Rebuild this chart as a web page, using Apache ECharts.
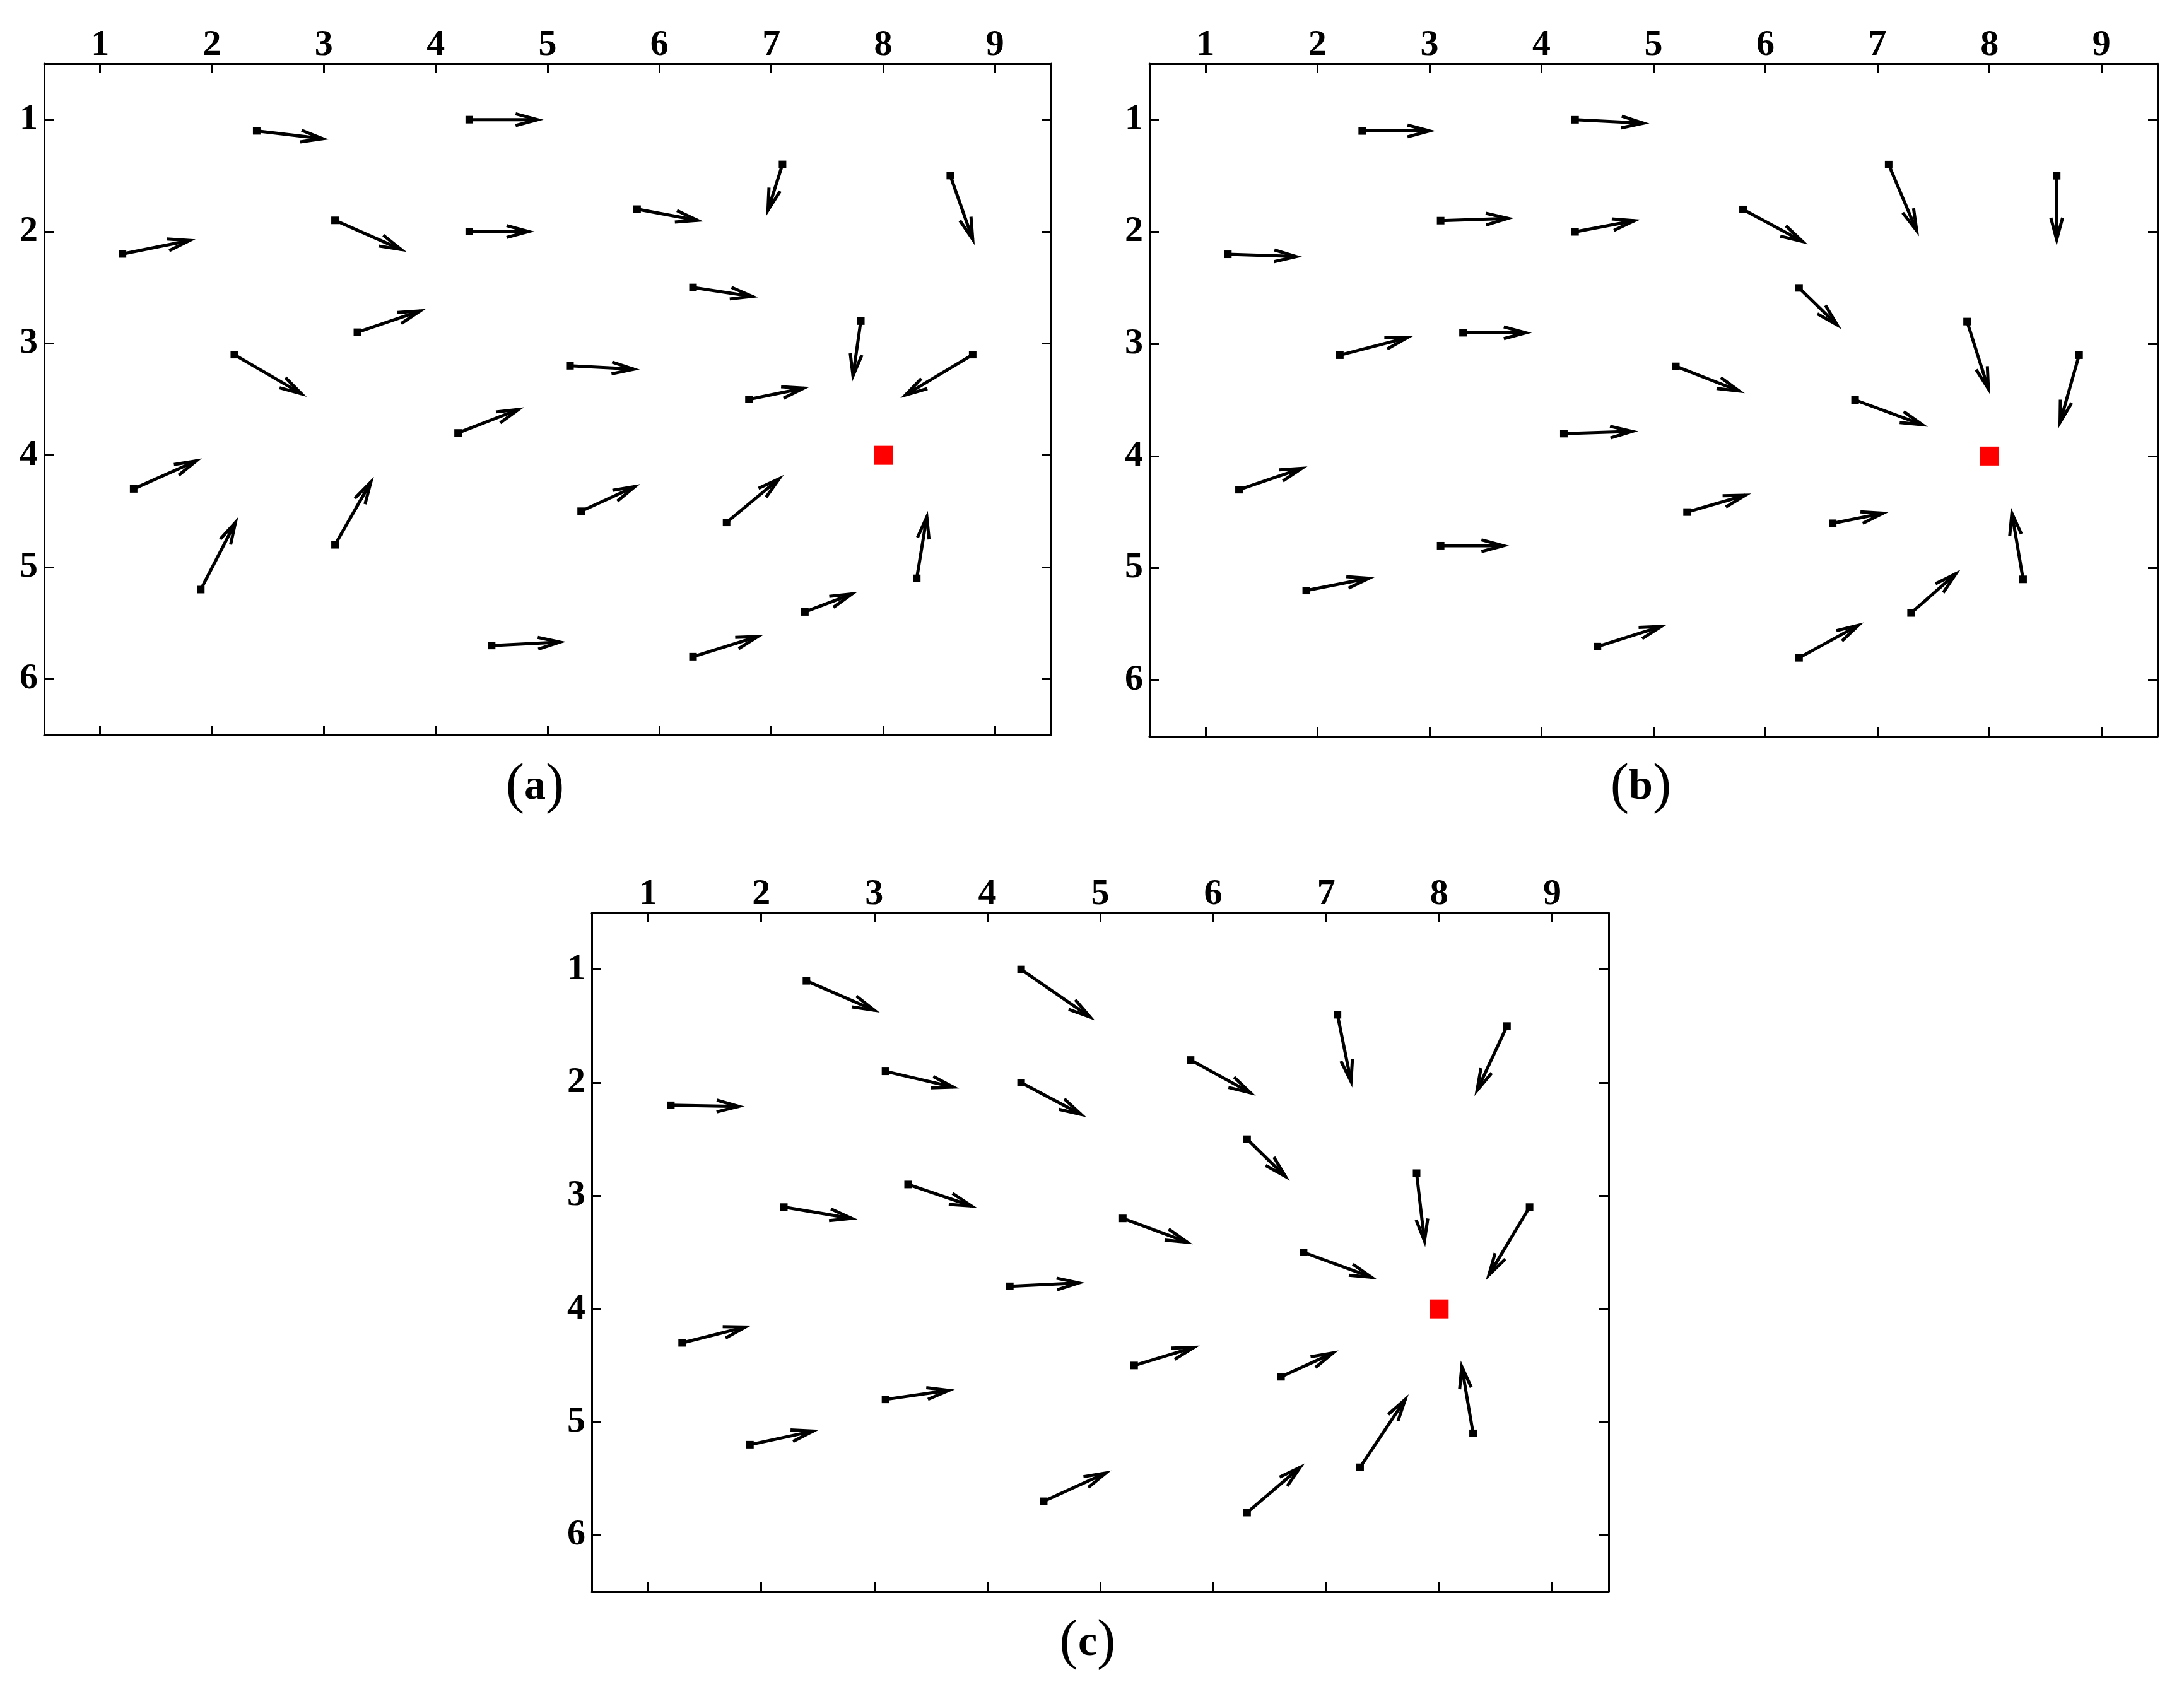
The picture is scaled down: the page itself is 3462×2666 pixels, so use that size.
<!DOCTYPE html>
<html>
<head>
<meta charset="utf-8">
<script src="https://cdn.jsdelivr.net/npm/echarts@6/dist/echarts.min.js"></script>
<style>
    html, body { margin: 0; padding: 0; background: #fff; }
    #chart { width: 3462px; height: 2666px; }
</style>
</head>
<body>
<div id="chart"></div>
<script>
"use strict";

// arrow start points (same for all three panels)
var xs = [2.4, 4.3, 1.2, 3.1, 4.3, 2.2, 3.3, 4.2, 1.3, 3.1, 1.9, 4.5, 7.1, 8.6, 5.8, 6.3, 5.2, 7.8, 8.8, 6.8, 5.3, 6.6, 8.3, 7.3, 6.3];
var ys = [1.1, 1.0, 2.2, 1.9, 2.0, 3.1, 2.9, 3.8, 4.3, 4.8, 5.2, 5.7, 1.4, 1.5, 1.8, 2.5, 3.2, 2.8, 3.1, 3.5, 4.5, 4.6, 5.1, 5.4, 5.8];

// arrow vectors, panel (a)
var uA = [0.59, 0.61, 0.60, 0.59, 0.53, 0.60, 0.56, 0.54, 0.56, 0.32, 0.31, 0.61, -0.13, 0.20, 0.54, 0.53, 0.57, -0.07, -0.60, 0.49, 0.48, 0.47, 0.09, 0.42, 0.58];
var vA = [0.07, 0.00, -0.12, 0.26, 0.00, 0.35, -0.19, -0.21, -0.25, -0.56, -0.60, -0.03, 0.41, 0.57, 0.10, 0.08, 0.03, 0.49, 0.36, -0.10, -0.22, -0.39, -0.55, -0.16, -0.18];

// panel (b)
var uB = [0.60, 0.61, 0.61, 0.60, 0.53, 0.60, 0.56, 0.61, 0.56, 0.56, 0.56, 0.57, 0.25, 0.00, 0.53, 0.34, 0.565, 0.19, -0.17, 0.60, 0.52, 0.45, -0.10, 0.40, 0.53];
var vB = [0.00, 0.03, 0.02, -0.02, -0.10, -0.155, 0.00, -0.02, -0.19, 0.00, -0.11, -0.18, 0.59, 0.57, 0.285, 0.33, 0.22, 0.60, 0.60, 0.22, -0.15, -0.09, -0.59, -0.35, -0.29];

// panel (c)
var uC = [0.60, 0.61, 0.60, 0.60, 0.53, 0.60, 0.56, 0.61, 0.56, 0.56, 0.56, 0.55, 0.12, -0.265, 0.53, 0.34, 0.57, 0.07, -0.36, 0.60, 0.53, 0.46, -0.10, 0.40, 0.47];
var vC = [0.26, 0.42, 0.01, 0.14, 0.28, 0.10, 0.19, -0.03, -0.14, -0.08, -0.12, -0.25, 0.59, 0.57, 0.29, 0.33, 0.21, 0.60, 0.60, 0.22, -0.16, -0.21, -0.59, -0.60, -0.40];

// target point (red square)
var target = [8, 4];

var xTicks = [1, 2, 3, 4, 5, 6, 7, 8, 9];
var yTicks = [1, 2, 3, 4, 5, 6];
var captions = ["a", "b", "c"];

(function (window, echarts) {
    var chart = echarts.init(document.querySelector("#chart"), null, { renderer: "canvas" });

    var FONT = "'Liberation Serif', 'DejaVu Serif', serif";
    var HEAD = 36;                 // barb length px
    var SPREAD = 15 * Math.PI / 180;
    var LW = 5;

    // panel boxes in px
    var boxes = [
        { left: 70, top: 101, width: 1596, height: 1064, cap: [848, 1248] },
        { left: 1822, top: 101, width: 1598, height: 1066, cap: [2601, 1248] },
        { left: 938, top: 1447, width: 1612, height: 1076, cap: [1724, 2605] }
    ];
    var vectors = [[uA, vA], [uB, vB], [uC, vC]];

    function rows(u, v) {
        return xs.map((x, i) => [x, ys[i], u[i], v[i]]);
    }

    function renderArrow(params, api) {
        var x = api.value(0), y = api.value(1);
        var p0 = api.coord([x, y]);
        var p1 = api.coord([x + api.value(2), y + api.value(3)]);
        var ang = Math.atan2(p1[1] - p0[1], p1[0] - p0[0]);
        var h1 = [p1[0] - HEAD * Math.cos(ang - SPREAD), p1[1] - HEAD * Math.sin(ang - SPREAD)];
        var h2 = [p1[0] - HEAD * Math.cos(ang + SPREAD), p1[1] - HEAD * Math.sin(ang + SPREAD)];
        return {
            type: "group",
            children: [
                { type: "line", shape: { x1: p0[0], y1: p0[1], x2: p1[0], y2: p1[1] }, style: { stroke: "#000", lineWidth: LW } },
                { type: "polyline", shape: { points: [h1, p1, h2] }, style: { stroke: "#000", fill: null, lineWidth: LW, lineJoin: "miter" } },
                { type: "rect", shape: { x: p0[0] - 6, y: p0[1] - 6, width: 12, height: 12 }, style: { fill: "#000" } }
            ]
        };
    }

    var labelStyle = { fontFamily: FONT, fontWeight: "bold", fontSize: 58, color: "#000" };
    var lineStyle = { color: "#000", width: 3 };

    function axis(kind, gi, pos, withLabels) {
        var isX = kind === "x";
        return {
            type: "value",
            gridIndex: gi,
            position: pos,
            min: 0.5,
            max: isX ? 9.5 : 6.5,
            inverse: !isX,
            splitLine: { show: false },
            axisLine: { show: true, onZero: false, lineStyle: lineStyle },
            axisTick: { show: true, inside: true, length: 15, customValues: isX ? xTicks : yTicks, lineStyle: lineStyle },
            axisLabel: Object.assign({
                show: withLabels,
                margin: isX ? 0 : 10,
                customValues: isX ? xTicks : yTicks
            }, labelStyle)
        };
    }

    var grid = [], xAxis = [], yAxis = [], series = [], graphic = [];

    boxes.forEach((b, i) => {
        grid.push({ left: b.left, top: b.top, width: b.width, height: b.height });
        xAxis.push(axis("x", i, "top", true));
        xAxis.push(axis("x", i, "bottom", false));
        yAxis.push(axis("y", i, "left", true));
        yAxis.push(axis("y", i, "right", false));

        series.push({
            type: "custom",
            xAxisIndex: i * 2,
            yAxisIndex: i * 2,
            renderItem: renderArrow,
            encode: { x: 0, y: 1 },
            data: rows(vectors[i][0], vectors[i][1])
        });
        series.push({
            type: "scatter",
            xAxisIndex: i * 2,
            yAxisIndex: i * 2,
            symbol: "rect",
            symbolSize: 30,
            itemStyle: { color: "#ff0000", opacity: 1 },
            data: [target]
        });

        graphic.push({
            type: "text",
            x: b.cap[0],
            y: b.cap[1],
            style: {
                text: "{p|(}{b|" + captions[i] + "}{p|)}",
                align: "center",
                verticalAlign: "middle",
                rich: {
                    p: { fontFamily: FONT, fontSize: 88, fill: "#000" },
                    b: { fontFamily: FONT, fontSize: 68, fontWeight: "bold", fill: "#000" }
                }
            }
        });
    });

    chart.setOption({
        animation: false,
        backgroundColor: "#fff",
        grid: grid,
        xAxis: xAxis,
        yAxis: yAxis,
        series: series,
        graphic: graphic
    });
}(window, echarts));
</script>
</body>
</html>
